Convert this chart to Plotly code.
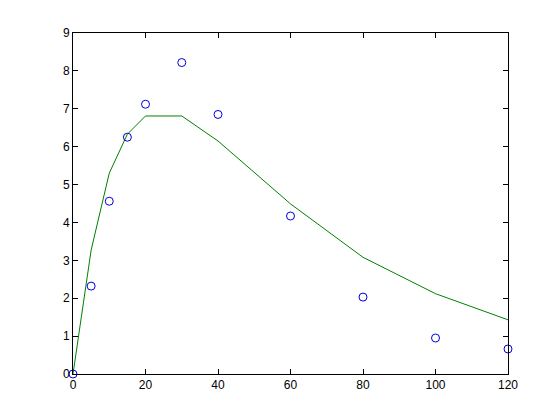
import plotly.graph_objects as go

x_data = [0, 5, 10, 15, 20, 30, 40, 60, 80, 100, 120]
y_data = [0.0, 2.32, 4.56, 6.25, 7.12, 8.22, 6.85, 4.17, 2.03, 0.95, 0.66]
y_model = [0.0, 3.27, 5.3, 6.33, 6.81, 6.81, 6.15, 4.49, 3.08, 2.12, 1.43]
x_ticks = [0, 20, 40, 60, 80, 100, 120]
y_ticks = [0, 1, 2, 3, 4, 5, 6, 7, 8, 9]

fig = go.Figure()
fig.add_trace(go.Scatter(x=x_data, y=y_model, mode="lines",
                         line=dict(color="#008000", width=1), showlegend=False))
fig.add_trace(go.Scatter(x=x_data, y=y_data, mode="markers",
                         marker=dict(symbol="circle-open", color="#0000DD", size=8,
                                     line=dict(width=1)),
                         cliponaxis=False, showlegend=False))

axis_common = dict(showgrid=False, zeroline=False, showline=True, linecolor="black",
                   linewidth=1, mirror="ticks", ticks="inside", ticklen=5,
                   tickcolor="black", tickfont=dict(family="Liberation Sans, Arial", size=12, color="black"))
fig.update_layout(
    width=560, height=420,
    margin=dict(l=65, r=60, t=25, b=54),
    plot_bgcolor="white", paper_bgcolor="white",
    xaxis=dict(range=[0, 120], tickvals=x_ticks, **axis_common),
    yaxis=dict(range=[0, 9], tickvals=y_ticks, **axis_common),
)
fig.write_html("out.html")
